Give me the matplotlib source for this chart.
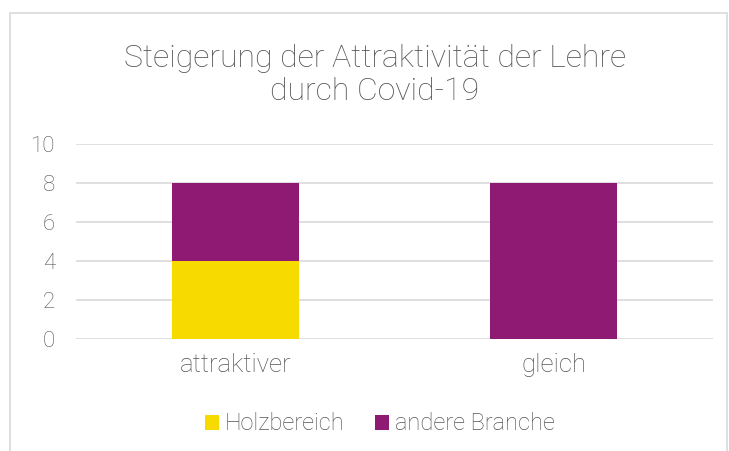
import matplotlib.pyplot as plt
from matplotlib.patches import Rectangle

categories = ['attraktiver', 'gleich']
holzbereich = [4, 0]
andere_branche = [4, 8]
series_names = ['Holzbereich', 'andere Branche']
yticks = [0, 2, 4, 6, 8, 10]

yellow = '#F7DA00'
purple = '#8E1A73'
txt = '#555555'

plt.rcParams['font.family'] = ['Roboto', 'DejaVu Sans']
plt.rcParams['font.weight'] = 'light'

fig = plt.figure(figsize=(7.29, 4.51), dpi=100)
# outer chart border (Excel style)
fig.patches.append(Rectangle((10 / 729, -0.01), 717 / 729, 1 - 13 / 451 + 0.01,
                             transform=fig.transFigure, fill=False,
                             edgecolor='#D9D9D9', linewidth=1.2))

ax = fig.add_axes([76 / 729, 1 - 339 / 451, 637 / 729, 195 / 451])
x = range(len(categories))
ax.bar(x, holzbereich, width=0.4, color=yellow, label=series_names[0], zorder=3)
ax.bar(x, andere_branche, width=0.4, bottom=holzbereich, color=purple,
       label=series_names[1], zorder=3)

ax.set_xlim(-0.5, 1.5)
ax.set_ylim(0, 10)
ax.set_yticks(yticks)
ax.set_xticks(list(x))
ax.set_xticklabels(categories)
ax.grid(axis='y', color='#D9D9D9', linewidth=1.2, zorder=0)
for s in ax.spines.values():
    s.set_visible(False)
ax.tick_params(length=0, colors=txt)
ax.tick_params(axis='y', pad=15, labelsize=16)
ax.tick_params(axis='x', pad=10, labelsize=18.5)

fig.text(375 / 729, 1 - 75 / 451, 'Steigerung der Attraktivität der Lehre\ndurch Covid-19',
         ha='center', va='center', fontsize=23, color=txt, linespacing=1.15)

ax.legend(loc='center', bbox_to_anchor=((380 - 76) / 637, (339 - 424) / 195), ncol=2,
          frameon=False, fontsize=17, labelcolor=txt, handlelength=0.6, handleheight=0.6,
          handletextpad=0.25, columnspacing=1.3)

fig.savefig('out.png', dpi=100)
